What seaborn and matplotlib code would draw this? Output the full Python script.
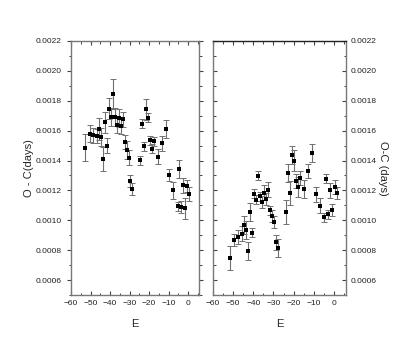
import matplotlib
matplotlib.use("Agg")
import matplotlib.pyplot as plt
import seaborn as sns
import numpy as np
import pandas as pd
from matplotlib.ticker import MultipleLocator, FormatStrFormatter

# Left panel data
E_left = [-52.6, -50.4, -48.6, -46.6, -45.5, -44.5, -43.5, -42.5, -41.5, -40.5,
          -39.5, -38.5, -37.5, -36.5, -35.5, -34.4, -33.4, -32.4, -31.4, -30.4,
          -29.7, -28.6, -24.5, -23.5, -22.5, -21.5, -20.5, -19.5, -18.5, -17.5,
          -15.5, -13.5, -11.4, -9.6, -7.6, -5.5, -4.5, -3.5, -2.5, -1.5, -0.5, 0.5]
OC_left = [0.001486, 0.00158, 0.00157, 0.001564, 0.00161, 0.00156, 0.00141, 0.001656,
           0.0015, 0.001747, 0.001693, 0.001843, 0.00169, 0.001636, 0.001683, 0.00163,
           0.001676, 0.001524, 0.001472, 0.001419, 0.001265, 0.00121, 0.001401, 0.001647,
           0.001495, 0.001743, 0.001687, 0.001537, 0.00148, 0.00153, 0.001424, 0.001515,
           0.00161, 0.001303, 0.0012, 0.001094, 0.001341, 0.001087, 0.001234, 0.00108,
           0.00123, 0.001176]
ERR_left = [0.00009, 0.000055, 0.00005, 0.00005, 0.000075, 0.00006, 0.00008, 0.00007,
            0.00005, 0.00007, 0.00006, 0.0001, 0.00006, 0.00005, 0.00006, 0.00005,
            0.00005, 0.00005, 0.00006, 0.00005, 0.00004, 0.00004, 0.00003, 0.00003,
            0.00003, 0.00007, 0.00003, 0.00003, 0.00003, 0.00003, 0.00005, 0.00005,
            0.00006, 0.00004, 0.000055, 0.00003, 0.00006, 0.00004, 0.00005, 0.00007,
            0.00004, 0.00005]

# Right panel data
E_right = [-51.5, -49.5, -47.5, -45.5, -44.8, -43.5, -42.5, -41.5, -40.5, -39.7,
           -38.5, -37.5, -36.5, -35.5, -34.5, -33.5, -32.5, -31.5, -30.5, -29.7,
           -28.7, -27.7, -23.7, -22.7, -21.7, -20.7, -19.7, -18.7, -17.7, -16.7,
           -14.7, -12.7, -10.7, -8.7, -6.7, -4.7, -3.7, -2.7, -1.7, -0.7, 0.3, 1.3]
OC_right = [0.000745, 0.000868, 0.000888, 0.00091, 0.000968, 0.000935, 0.000794, 0.001053,
            0.000917, 0.001178, 0.001138, 0.001299, 0.00116, 0.00112, 0.001183, 0.001143,
            0.001205, 0.001067, 0.001027, 0.00099, 0.000853, 0.000812, 0.001055, 0.001316,
            0.00118, 0.001439, 0.001399, 0.001263, 0.001223, 0.001283, 0.001207, 0.00133,
            0.001452, 0.001174, 0.001098, 0.00102, 0.001279, 0.001042, 0.001201, 0.001066,
            0.001223, 0.001185]
ERR_right = [0.00008, 0.00004, 0.00005, 0.00005, 0.00006, 0.00006, 0.00006, 0.00006,
             0.00003, 0.00003, 0.00003, 0.00003, 0.00003, 0.00004, 0.00005, 0.00004,
             0.00005, 0.00003, 0.00004, 0.00004, 0.00005, 0.00006, 0.00008, 0.00006,
             0.00008, 0.00006, 0.00007, 0.00005, 0.00007, 0.00005, 0.00006, 0.00005,
             0.00006, 0.00005, 0.00005, 0.00003, 0.00003, 0.00003, 0.00005, 0.00004,
             0.00005, 0.00004]

sns.set_style("white")
plt.rcParams['font.family'] = ['Liberation Sans', 'DejaVu Sans']

fig = plt.figure(figsize=(4.07, 3.54), dpi=100)
axL = fig.add_axes([71/407, 59/354, 128/407, 254/354])
axR = fig.add_axes([213/407, 59/354, 133/407, 254/354])

df_left = pd.DataFrame({"E": E_left, "OC": OC_left, "err": ERR_left})
df_right = pd.DataFrame({"E": E_right, "OC": OC_right, "err": ERR_right})

for ax, df in [(axL, df_left), (axR, df_right)]:
    ax.errorbar(df["E"], df["OC"], yerr=df["err"], fmt='none', ecolor='#707070',
                elinewidth=0.8, capsize=2.2, capthick=0.7)
    sns.scatterplot(data=df, x="E", y="OC", ax=ax, color='black', marker='s',
                    s=5, linewidth=0, zorder=3)
    ax.set_xlim(-60, 5.5)
    ax.set_ylim(0.0005, 0.0022)
    ax.xaxis.set_major_locator(MultipleLocator(10))
    ax.xaxis.set_minor_locator(MultipleLocator(5))
    ax.yaxis.set_major_locator(MultipleLocator(0.0002))
    ax.yaxis.set_minor_locator(MultipleLocator(0.0001))
    ax.yaxis.set_major_formatter(FormatStrFormatter('%.4f'))
    ax.set_xlabel("E", fontsize=8, labelpad=9)
    for sp in ax.spines.values():
        sp.set_color('#777777')
        sp.set_linewidth(1.0)
    ax.tick_params(which='both', colors='#444444', labelcolor='#222222', labelsize=6)
    ax.tick_params(which='major', length=3, width=0.8)
    ax.tick_params(which='minor', length=1.8, width=0.7)

axR.set_xlim(-60, 6)

# Left panel ticks
axL.tick_params(which='both', left=True, right=True, top=True, bottom=True,
                labelleft=True, labelright=False, labeltop=False, labelbottom=True)
axL.tick_params(axis='y', which='both', direction='out')
axL.tick_params(axis='x', which='both', direction='in')
axL.yaxis.set_ticks_position('both')
axL.set_ylabel("O - C(days)", fontsize=8, labelpad=1)

# Right panel ticks
axR.tick_params(which='both', left=True, right=True, top=True, bottom=True,
                direction='in', labelleft=False, labelright=True,
                labeltop=False, labelbottom=True)
axR.yaxis.set_label_position('right')
axR.set_ylabel("O-C (days)", fontsize=8, rotation=270, labelpad=8)
axR.spines['top'].set_color('#222222')

fig.savefig("out.png", dpi=100)
